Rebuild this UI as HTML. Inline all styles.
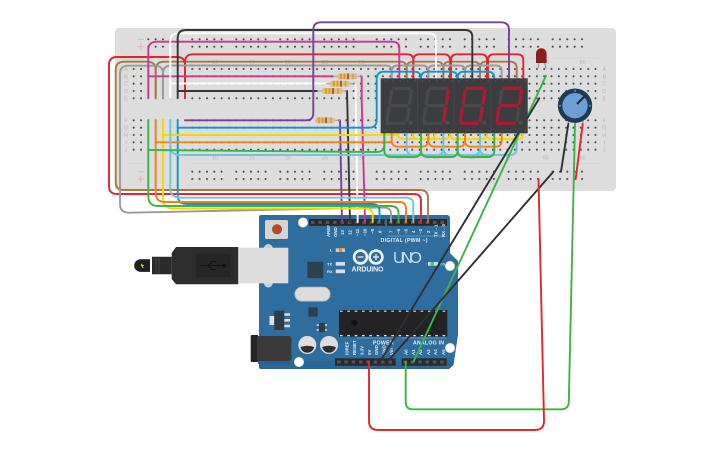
<!DOCTYPE html>
<html><head><meta charset="utf-8"><style>
html,body{margin:0;padding:0;background:#fff}
svg{display:block}
text{font-family:"Liberation Sans",sans-serif}
.w path,path.w{fill:none;stroke-width:1.9;stroke-linecap:round;stroke-linejoin:round}
.h path{fill:none;stroke:#4a4a4a;stroke-width:2.1;stroke-linecap:round;stroke-dasharray:0 7.33}
.r path{fill:none;stroke:#4a4a4a;stroke-width:2.1;stroke-linecap:round;stroke-dasharray:0 7.33 0 7.33 0 7.33 0 7.33 0 14.67}
.bl text{font-size:5.5px;fill:#b5b5b5;text-anchor:middle}
.p text{font-size:4.4px;fill:#e8eef3;text-anchor:start;font-weight:bold}
.seg path{fill:none;stroke:#48494b;stroke-width:3.4;stroke-linecap:butt}
.seg path.o{stroke:#a81c34}
</style></head><body>
<svg width="725" height="453" viewBox="0 0 725 453" xmlns="http://www.w3.org/2000/svg">
<rect width="725" height="453" fill="#fff"/>
<!-- breadboard -->
<rect x="115" y="28" width="501" height="163" rx="4" fill="#dddddd"/>
<path d="M128 58H600M128 163.5H600" stroke="#d2d2d2" stroke-width=".6" fill="none"/>
<g class="h">
<path d="M133.7 69H598"/><path d="M133.7 76.3H598"/><path d="M133.7 83.7H598"/><path d="M133.7 91H598"/><path d="M133.7 98.3H598"/>
<path d="M133.7 120.3H598"/><path d="M133.7 127.7H598"/><path d="M133.7 135H598"/><path d="M133.7 142.3H598"/><path d="M133.7 149.7H598"/>
</g>
<g class="r">
<path d="M148.3 39.3H354"/><path d="M148.3 46.7H354"/><path d="M148.3 171.7H354"/><path d="M148.3 179H354"/>
<path d="M376.7 39.3H582"/><path d="M376.7 46.7H582"/><path d="M376.7 171.7H582"/><path d="M376.7 179H582"/>
</g>
<rect x="144" y="105" width="44" height="81" fill="#dddddd" opacity=".6"/>
<rect x="144" y="64" width="44" height="38" fill="#dddddd" opacity=".45"/>
<g stroke-width="1" fill="none">
<path d="M137.5 39.3H144M137.5 171.7H144" stroke="#a9c6dd"/>
<path d="M137.5 46.7H144M140.7 43.5V50M137.5 179H144M140.7 175.7V182.3" stroke="#eab4b4"/>
</g>
<g class="bl">
<text x="126" y="71">A</text><text x="126" y="78.3">B</text><text x="126" y="85.7">C</text><text x="126" y="93">D</text><text x="126" y="100.3">E</text>
<text x="126" y="122.3">F</text><text x="126" y="129.7">G</text><text x="126" y="137">H</text><text x="126" y="144.3">I</text><text x="126" y="151.7">J</text>
<text x="604.3" y="71">A</text><text x="604.3" y="78.3">B</text><text x="604.3" y="85.7">C</text><text x="604.3" y="93">D</text><text x="604.3" y="100.3">E</text>
<text x="604.3" y="122.3">F</text><text x="604.3" y="129.7">G</text><text x="604.3" y="137">H</text><text x="604.3" y="144.3">I</text><text x="604.3" y="151.7">J</text>
<text x="215" y="64">10</text><text x="251.7" y="64">15</text><text x="288" y="64">20</text><text x="325" y="64">25</text><text x="361.7" y="64">30</text><text x="546" y="64">55</text><text x="582.7" y="64">60</text>
<text x="178" y="159.5">5</text><text x="215" y="159.5">10</text><text x="251.7" y="159.5">15</text><text x="288" y="159.5">20</text><text x="325" y="159.5">25</text><text x="361.7" y="159.5">30</text><text x="399" y="159.5">35</text><text x="436" y="159.5">40</text><text x="472" y="159.5">45</text><text x="509" y="159.5">50</text><text x="546" y="159.5">55</text><text x="582.7" y="159.5">60</text>
</g>
<!-- LED -->
<path d="M538.8 62L538.3 68.5M544.5 62L546 68.5" stroke="#a0a0a0" stroke-width="1.3" fill="none"/>
<path d="M536 63V53.5a5.3 5.3 0 0 1 10.6 0V63Z" fill="#8a1d1f"/>
<!-- potentiometer -->
<path d="M568.3 118V124M575 118V124M582.7 118V124" stroke="#a0a0a0" stroke-width="1.4" fill="none"/>
<circle cx="575" cy="105.7" r="17.2" fill="#1f3a52"/>
<g fill="#5f7f9d"><circle cx="575" cy="90.7" r="1.1"/><circle cx="560" cy="105.7" r="1.1"/><circle cx="590" cy="105.7" r="1.1"/></g>
<circle cx="575" cy="105.7" r="12.7" fill="#6b9fd6"/>
<path d="M577 104L585 96" stroke="#1f2c3a" stroke-width="2.2" fill="none"/>
<!-- arduino -->
<path d="M261 215H448L450 217V253L458 261V335L453.5 365L449 369H261Q259 369 259 367V217Q259 215 261 215Z" fill="#2f6d9f"/>
<path d="M259 361H454L453 365L449 369H261Q259 369 259 367Z" fill="#2a6393" opacity=".6"/>
<circle cx="303" cy="222.5" r="4.6" fill="#fff" stroke="#f0e6c0" stroke-width=".8"/>
<circle cx="299" cy="362" r="4.6" fill="#fff" stroke="#f0e6c0" stroke-width=".8"/>
<circle cx="450" cy="266" r="4.6" fill="#fff" stroke="#f0e6c0" stroke-width=".8"/>
<circle cx="450" cy="348" r="4.6" fill="#fff" stroke="#f0e6c0" stroke-width=".8"/>
<!-- headers -->
<g fill="#2a2a2a"><rect x="309" y="219" width="76" height="6.8"/><rect x="387" y="219" width="60" height="6.8"/><rect x="335" y="358.3" width="60.7" height="7.4"/><rect x="401.7" y="358.3" width="45" height="7.4"/></g>
<g fill="none" stroke="#555" stroke-width="3" stroke-dasharray="3.6 3.73"><path d="M311 222.4H385"/><path d="M389 222.4H447"/><path d="M337 362H395"/><path d="M403.5 362H446"/></g>
<!-- reset -->
<rect x="265" y="220" width="23" height="19" rx="1.5" fill="#d4d4d4"/>
<circle cx="277" cy="229.3" r="5" fill="#b4472c"/>
<!-- usb -->
<circle cx="268.3" cy="248.5" r="4.5" fill="#c4d3e0"/><circle cx="268.3" cy="283" r="4.5" fill="#c4d3e0"/>
<rect x="239.3" y="247.7" width="49" height="35.6" fill="#dcdcdc"/>
<path d="M176 247H238.3V284.3H176L171.7 279V253Z" fill="#2d2d2d"/>
<path d="M152 256.7H171.7V274.3H152Z" fill="#2b2b2b"/>
<path d="M150 259.3H140.5a6.3 6.3 0 0 0 0 12.6H150Z" fill="#1f1f1f"/>
<path d="M156 258V273M159 258V273" stroke="#444" stroke-width="1" fill="none"/>
<path d="M141 264L143 265.5L141.5 265.5L143.2 268" stroke="#e6d21f" stroke-width=".9" fill="none"/>
<rect x="196" y="254" width="35" height="23" fill="#262626"/>
<path d="M200 265.5H224M208 265.5L212 261.5H216M208 265.5L212 269.5H216" stroke="#111" stroke-width="1" fill="none"/>
<circle cx="224" cy="265.5" r="2" fill="#111"/>
<!-- components -->
<rect x="295" y="287.3" width="35" height="13.7" rx="6.8" fill="#dcdcdc" stroke="#c4c4c4"/>
<rect x="307.3" y="261.7" width="16" height="16.6" rx="1" fill="#2a4152"/>
<rect x="308.3" y="307.3" width="9.4" height="9.4" rx="1" fill="#2a4152"/>
<rect x="269.5" y="316" width="4.8" height="9" fill="#e0e0e0"/>
<rect x="274.3" y="310.7" width="10" height="19.3" fill="#2f3b46"/>
<path d="M284.3 314.5H290M284.3 320.3H290M284.3 326H290" stroke="#dcdcdc" stroke-width="2.6" fill="none"/>
<rect x="319" y="323" width="6" height="9" fill="#2f3b46"/>
<path d="M316.7 325H327M316.7 330H327" stroke="#dcdcdc" stroke-width="1.5" stroke-dasharray="2.2 6" fill="none"/>
<rect x="258" y="355" width="34" height="9" fill="#2a6393"/>
<rect x="250.7" y="335" width="7.5" height="27" rx="1" fill="#252525"/>
<rect x="257" y="336" width="34.3" height="25" rx="2.5" fill="#3a3a3a"/>
<g>
<circle cx="307.3" cy="345" r="9" fill="#dedede"/><path d="M300.5 347A6.9 6.9 0 0 0 314.1 347Q307.3 344.5 300.5 347Z" fill="#2f2f2f"/>
<circle cx="329" cy="345" r="9" fill="#dedede"/><path d="M322.2 347A6.9 6.9 0 0 0 335.8 347Q329 344.5 322.2 347Z" fill="#2f2f2f"/>
</g>
<!-- main chip -->
<rect x="339" y="310" width="108.3" height="26.7" fill="#232323"/>
<path d="M340 311.2H447M340 335.6H447" stroke="#e6e6e6" stroke-width="1.2" stroke-dasharray="2.6 4.73" fill="none"/>
<circle cx="354.3" cy="322.7" r="3" fill="#111"/><circle cx="433" cy="322.7" r="2.5" fill="#1a1a1a"/>
<!-- leds -->
<rect x="335.7" y="248.3" width="9.3" height="3.7" fill="#e6c79a"/><rect x="339" y="248.3" width="3" height="3.7" fill="#e88a2a"/>
<rect x="335.7" y="262" width="9.3" height="3.7" fill="#d8dde0"/><rect x="335.7" y="269.5" width="9.3" height="3.7" fill="#d8dde0"/>
<rect x="428" y="262" width="10" height="3.7" fill="#d8dde0"/><rect x="430.5" y="262" width="3.5" height="3.7" fill="#3fd05a"/>
<g font-size="4" fill="#e8eef3" font-weight="bold"><text x="330" y="251.5">L</text><text x="327" y="265.5">TX</text><text x="327" y="273">RX</text><text x="440" y="265.5" font-size="3.6" opacity=".7">ON</text></g>
<!-- logo -->
<g fill="none" stroke="#f2f5f7" stroke-width="2.6"><circle cx="360.5" cy="257" r="6.4"/><circle cx="376" cy="257" r="6.4"/></g>
<path d="M357.5 257H363.5M373 257H379M376 254V260" stroke="#f2f5f7" stroke-width="1.2" fill="none"/>
<text x="351.5" y="271.5" font-size="7" font-weight="bold" fill="#eef2f5" textLength="32">ARDUINO</text>
<text x="393" y="263" font-size="16" fill="#cfdeea" textLength="29">UNO</text>
<text x="380.5" y="242" font-size="5.2" font-weight="bold" fill="#e8eef3" textLength="47">DIGITAL (PWM ~)</text>
<text x="372.7" y="344.7" font-size="5.2" font-weight="bold" fill="#e8eef3" textLength="21">POWER</text>
<text x="413" y="344.7" font-size="5.2" font-weight="bold" fill="#e8eef3" textLength="31">ANALOG IN</text>
<path d="M357 338H394M402 338H446" stroke="#cfe0ee" stroke-width=".5" opacity=".7" fill="none"/>
<path d="M388 236H447" stroke="#cfe0ee" stroke-width=".5" opacity=".7" fill="none"/>
<g class="p">
<text transform="translate(329.8,237) rotate(-90)">AREF</text><text transform="translate(337.2,237) rotate(-90)">GND</text>
<text transform="translate(343.8,235) rotate(-90)">13</text><text transform="translate(351.5,235) rotate(-90)">12</text><text transform="translate(359.2,236) rotate(-90)">~11</text><text transform="translate(366.5,236) rotate(-90)">~10</text><text transform="translate(374.2,234) rotate(-90)">~9</text><text transform="translate(381.5,233) rotate(-90)">8</text>
<text transform="translate(392.5,233) rotate(-90)">7</text><text transform="translate(399.8,234) rotate(-90)">~6</text><text transform="translate(407.5,234) rotate(-90)">~5</text><text transform="translate(414.8,233) rotate(-90)">4</text><text transform="translate(422.2,234) rotate(-90)">~3</text><text transform="translate(429.8,233) rotate(-90)">2</text><text transform="translate(437.5,237) rotate(-90)">TX→1</text><text transform="translate(444.8,237) rotate(-90)">RX←0</text>
<text transform="translate(348.5,355) rotate(-90)">IOREF</text><text transform="translate(356.2,355) rotate(-90)">RESET</text><text transform="translate(363.5,355) rotate(-90)">3.3V</text><text transform="translate(370.8,355) rotate(-90)">5V</text><text transform="translate(378.2,355) rotate(-90)">GND</text><text transform="translate(385.5,355) rotate(-90)">GND</text><text transform="translate(393.2,355) rotate(-90)">Vin</text>
<text transform="translate(407.5,355) rotate(-90)">A0</text><text transform="translate(414.8,355) rotate(-90)">A1</text><text transform="translate(422.2,355) rotate(-90)">A2</text><text transform="translate(429.8,355) rotate(-90)">A3</text><text transform="translate(437.2,355) rotate(-90)">A4</text><text transform="translate(444.8,355) rotate(-90)">A5</text>
</g>
<!-- wires -->
<g class="w">
<g stroke="#a5774f">
<path d="M155.7 98V70Q155.7 61.7 147 61.7H124Q115.7 61.7 115.7 70V182Q115.7 190 124 190H420Q428 190 428 198V222"/>
<path d="M155.7 98V70Q155.7 61.7 164 61.7H400Q406.7 61.7 406.7 68V79"/>
<path d="M406.7 79V68Q406.7 61.7 413 61.7H437Q443.3 61.7 443.3 68V79"/>
<path d="M443.3 79V68Q443.3 61.7 450 61.7H473Q480 61.7 480 68V79"/>
<path d="M480 79V68Q480 61.7 486 61.7H510Q516.7 61.7 516.7 68V79"/>
</g>
<g stroke="#e2262b">
<path d="M185 98V65Q185 57 177 57H117Q109 57 109 65V186Q109 194 117 194H414Q421 194 421 201V222"/>
<path d="M185 98V62Q185 54.3 193 54.3H407Q413.3 54.3 413.3 60V79"/>
<path d="M413.3 79V60Q413.3 54.3 420 54.3H444Q450 54.3 450 60V79"/>
<path d="M451 79V60Q451 54.3 457 54.3H481Q487 54.3 487 60V79"/>
<path d="M488 79V60Q488 54.3 494 54.3H517Q523.3 54.3 523.3 60V79"/>
</g>
<g stroke="#9b9b9b">
<path d="M163 98V74Q163 65.7 155 65.7H128Q120 65.7 120 74V204Q120 212.7 129 212.7L383 207.5Q391 207.3 391 214V222"/>
<path d="M163 98V74Q163 65.5 171 65.5H385Q391.7 65.5 391.7 71V79"/>
<path d="M391.7 79V71Q391.7 65.5 398 65.5H422Q428.3 65.5 428.3 71V79"/>
<path d="M428.3 79V71Q428.3 65.5 434 65.5H459Q465 65.5 465 71V79"/>
<path d="M465 79V71Q465 65.5 471 65.5H496Q501.7 65.5 501.7 71V79"/>
</g>
<g stroke="#cd3493">
<path d="M148.3 98V50Q148.3 41.7 157 41.7H392Q399.3 41.7 399.3 48V78"/>
<path d="M148.3 76.3H333"/>
<path d="M361.7 76.3V100L365 222"/>
</g>
<g stroke="#ffffff">
<path d="M170.3 98V41Q170.3 33.3 178 33.3H429Q436 33.3 436 40V78"/>
<path d="M170.3 83.5H327"/>
<path d="M355.5 83.7L357.7 222"/>
</g>
<g stroke="#35363a">
<path d="M177.7 98V38Q177.7 30 186 30H465Q472.3 30 472.3 37V78"/>
<path d="M177.7 91H317"/>
<path d="M347 91L350 222"/>
</g>
<g stroke="#7a3f96">
<path d="M185 120.3H306Q313.3 120.3 313.3 113V30Q313.3 22.3 321 22.3H501Q509 22.3 509 30V78"/>
<path d="M340 120.3L342 222"/>
</g>
<g stroke="#0d96cf">
<path d="M177.7 120V195Q177.7 204 187 204H372Q379.5 204 379.5 211V222"/>
<path d="M177.7 127.7H369Q376.7 127.7 376.7 120V79Q376.7 71.7 384 71.7H414Q421 71.7 421 78"/>
<path d="M421 78Q421 71.7 428 71.7H451Q457.7 71.7 457.7 78"/>
<path d="M457.7 78Q457.7 71.7 464 71.7H488Q494.3 71.7 494.3 78"/>
</g>
<g stroke="#f4d900">
<path d="M163 120V198Q163 208.5 173 208.5H364Q372.7 208.5 372.7 214V222"/>
<path d="M163 135H398"/>
<path d="M398 133V135Q398 139 404 139H431Q435 139 435 133"/>
<path d="M413 133V135Q413 139 418 139H445Q450 139 450 133"/>
<path d="M450 133V135Q450 139 455 139H482Q487 139 487 133"/>
<path d="M487 133V135Q487 139 492 139H518Q523 139 523 133"/>
</g>
<g stroke="#ee8215">
<path d="M155.7 120V193Q155.7 202 165 202H399Q406 202 406 209V222"/>
<path d="M155.7 142.3H391"/>
<path d="M391.7 133V140Q391.7 146.7 398 146.7H422Q428.3 146.7 428.3 140V133"/>
<path d="M428.3 133V140Q428.3 146.7 435 146.7H459Q465 146.7 465 140V133"/>
<path d="M465 133V140Q465 146.7 471 146.7H496Q501.7 146.7 501.7 140V133"/>
</g>
<g stroke="#70c6d8">
<path d="M170.3 120V188Q170.3 197.7 180 197.7H406Q413.3 197.7 413.3 204V222"/>
<path d="M170.3 146Q170.3 155 180 155H510Q516.7 155 516.7 148V133"/>
<path d="M406.7 133V148Q406.7 155 413 155H437Q443.3 155 443.3 148V133"/>
<path d="M443.3 133V148Q443.3 155 450 155H473Q480 155 480 148V133"/>
<path d="M480 133V148Q480 155 487 155H510Q516.7 155 516.7 148V133"/>
</g>
<g stroke="#3fb14a">
<path d="M148.3 120V196Q148.3 206 158 206H390Q398.5 206 398.5 213V222"/>
<path d="M148.3 150L376 152Q384.3 152 384.3 145V133"/>
<path d="M384.3 133V150Q384.3 157 391 157H414Q421 157 421 150V133"/>
<path d="M421 133V150Q421 157 428 157H451Q457.7 157 457.7 150V133"/>
<path d="M457.7 133V150Q457.7 157 464 157H488Q494.3 157 494.3 150V133"/>
<path d="M546 75.7L413.5 361.7"/>
<path d="M405.7 362V402Q405.7 409.3 413 409.3H561Q568.5 409.3 568.8 402L575 124"/>
</g>
<g stroke="#2f3033">
<path d="M539.3 98.3L381 360"/>
<path d="M553.3 171.7L389 360"/>
<path d="M568.3 124L561 171.7"/>
</g>
<g stroke="#e2262b">
<path d="M369 362V421Q369 430 378 430H535Q544 430 544 421L538.5 179"/>
<path d="M582.7 124L575.7 179"/>
</g>
</g>
<!-- resistors -->
<g>
<rect x="336.7" y="73.5" width="21" height="5.8" rx="2.8" fill="#dcbf85"/>
<path d="M341 73.5V79.3M344.5 73.5V79.3" stroke="#f0901e" stroke-width="1.7"/><path d="M348 73.5V79.3" stroke="#8a5a2b" stroke-width="1.7"/><path d="M353 73.5V79.3" stroke="#c9a24e" stroke-width="1.4"/>
<path d="M333 76.3H337M358 76.3H362" stroke="#9a9a9a" stroke-width="1"/>
<rect x="330" y="80.8" width="20" height="5.8" rx="2.8" fill="#dcbf85"/>
<path d="M334 80.8V86.6M337.5 80.8V86.6" stroke="#f0901e" stroke-width="1.7"/><path d="M341 80.8V86.6" stroke="#8a5a2b" stroke-width="1.7"/><path d="M345.5 80.8V86.6" stroke="#c9a24e" stroke-width="1.4"/>
<path d="M326 83.7H330M350 83.7H355.5" stroke="#9a9a9a" stroke-width="1"/>
<rect x="321.7" y="88.1" width="21.6" height="5.8" rx="2.8" fill="#dcbf85"/>
<path d="M326 88.1V93.9M329.5 88.1V93.9" stroke="#f0901e" stroke-width="1.7"/><path d="M333 88.1V93.9" stroke="#8a5a2b" stroke-width="1.7"/><path d="M338 88.1V93.9" stroke="#c9a24e" stroke-width="1.4"/>
<path d="M317 91H322M343 91H347" stroke="#9a9a9a" stroke-width="1"/>
<rect x="315" y="117.4" width="20" height="5.8" rx="2.8" fill="#dcbf85"/>
<path d="M319 117.4V123.2M322.5 117.4V123.2" stroke="#f0901e" stroke-width="1.7"/><path d="M326 117.4V123.2" stroke="#8a5a2b" stroke-width="1.7"/><path d="M331 117.4V123.2" stroke="#c9a24e" stroke-width="1.4"/>
<path d="M335 120.3H340" stroke="#9a9a9a" stroke-width="1"/>
</g>
<!-- display -->
<rect x="380.7" y="78.3" width="147" height="55" fill="#3b3d41"/>
<path d="M417.4 78.3V133.3M454 78.3V133.3M490.8 78.3V133.3" stroke="#48494d" stroke-width=".8"/>
<path d="M385 81H527M385 130.5H527" stroke="#56575a" stroke-width="1.2" stroke-dasharray="1.2 6.13" fill="none"/>
<g class="seg" transform="translate(380.7,78.3)">
<path d="M11.5 10H30.5"/><path d="M8.5 27.3H27.5"/><path d="M5.5 45H24.5"/><path d="M11 11.5L8.8 26"/><path d="M8.3 29L6 43.5"/><path d="M31 11.5L28.8 26"/><path d="M28.3 29L26 43.5"/><circle cx="30" cy="44.3" r="2" fill="#4d4e50"/>
</g>
<g class="seg" transform="translate(417.4,78.3)">
<path d="M11.5 10H30.5"/><path d="M8.5 27.3H27.5"/><path d="M5.5 45H24.5"/><path d="M11 11.5L8.8 26"/><path d="M8.3 29L6 43.5"/><path class="o" d="M31 10.5L28.8 26.3"/><path class="o" d="M28.3 28.3L26 44"/><circle cx="30" cy="44.3" r="2" fill="#4d4e50"/>
</g>
<g class="seg" transform="translate(454.1,78.3)">
<path d="M8.5 27.3H27.5"/><path class="o" d="M11.5 10H30.5"/><path class="o" d="M5.5 45H24.5"/><path class="o" d="M11 11.5L8.8 26"/><path class="o" d="M8.3 29L6 43.5"/><path class="o" d="M31 10.5L28.8 26.3"/><path class="o" d="M28.3 28.3L26 44"/><circle cx="30" cy="44.3" r="2" fill="#4d4e50"/>
</g>
<g class="seg" transform="translate(490.8,78.3)">
<path d="M11 11.5L8.8 26"/><path d="M28.3 29L26 43.5"/><path class="o" d="M11.5 10H30.5"/><path class="o" d="M8.5 27.3H27.5"/><path class="o" d="M5.5 45H24.5"/><path class="o" d="M8.3 28.3L6 44"/><path class="o" d="M31 10.5L28.8 26.3"/><circle cx="30" cy="44.3" r="2" fill="#4d4e50"/>
</g>
</svg>
</body></html>
